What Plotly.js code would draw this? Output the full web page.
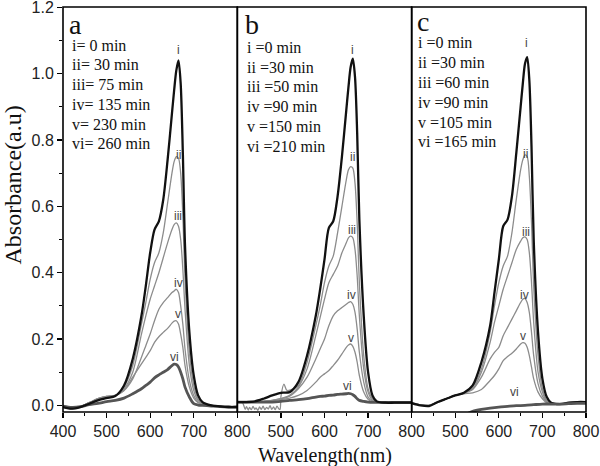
<!DOCTYPE html>
<html>
<head>
<meta charset="utf-8">
<script src="https://cdn.plot.ly/plotly-3.0.1.min.js"></script>
<style>html,body{margin:0;padding:0;background:#fff;}#chart{width:600px;height:466px;}</style>
</head>
<body>
<div id="chart"></div>
<script>
// ---------- DATA ----------
const wl = [400,420,440,460,480,500,520,540,560,580,590,600,610,620,630,640,650,655,660,665,670,675,680,690,700,710,720,740,760,780,800];

// panel a
const a_i   = [-0.005,-0.01,-0.005,0.005,0.015,0.022,0.028,0.06,0.14,0.27,0.36,0.46,0.53,0.555,0.62,0.74,0.88,0.95,1.01,1.04,0.97,0.76,0.48,0.22,0.09,0.03,0.01,0.0,-0.003,-0.005,-0.005];
const a_ii  = [-0.005,-0.01,-0.004,0.008,0.02,0.027,0.03,0.055,0.12,0.245,0.31,0.38,0.43,0.46,0.52,0.61,0.70,0.735,0.75,0.745,0.70,0.57,0.38,0.16,0.06,0.02,0.008,0.0,-0.003,-0.005,-0.005];
const a_iii = [-0.005,-0.01,-0.004,0.008,0.02,0.027,0.03,0.05,0.10,0.215,0.27,0.32,0.36,0.40,0.445,0.49,0.53,0.545,0.55,0.54,0.50,0.41,0.29,0.12,0.045,0.015,0.006,0.0,-0.003,-0.005,-0.005];
const a_iv  = [-0.005,-0.01,-0.004,0.008,0.02,0.027,0.03,0.045,0.08,0.145,0.18,0.215,0.255,0.29,0.31,0.325,0.34,0.345,0.35,0.34,0.30,0.245,0.17,0.075,0.03,0.01,0.004,0.0,-0.003,-0.005,-0.005];
const a_v   = [-0.005,-0.01,-0.004,0.008,0.018,0.025,0.03,0.045,0.085,0.125,0.145,0.165,0.19,0.207,0.22,0.232,0.248,0.254,0.255,0.245,0.215,0.175,0.12,0.055,0.022,0.008,0.003,0.0,-0.003,-0.005,-0.005];
const a_vi  = [-0.002,-0.006,-0.004,0.002,0.006,0.011,0.015,0.022,0.035,0.05,0.06,0.07,0.083,0.092,0.10,0.108,0.12,0.124,0.123,0.116,0.10,0.08,0.055,0.025,0.005,0.001,0.0,-0.002,-0.004,-0.005,-0.005];

// panel b
const b_i   = [0.01,0.01,0.012,0.02,0.03,0.038,0.04,0.07,0.15,0.27,0.35,0.44,0.535,0.555,0.63,0.75,0.89,0.96,1.02,1.045,0.99,0.82,0.56,0.27,0.10,0.03,0.012,0.008,0.008,0.008,0.008];
const b_ii  = [0.01,0.01,0.01,0.012,0.015,0.02,0.045,0.06,0.13,0.24,0.30,0.37,0.42,0.45,0.52,0.60,0.68,0.71,0.72,0.715,0.67,0.55,0.37,0.15,0.05,0.02,0.01,0.008,0.008,0.008,0.008];
const b_iii = [0.01,0.01,0.01,0.012,0.015,0.02,0.03,0.055,0.11,0.21,0.265,0.32,0.37,0.395,0.42,0.46,0.49,0.505,0.51,0.505,0.47,0.39,0.27,0.11,0.04,0.015,0.01,0.008,0.008,0.008,0.008];
const b_iv  = [0.01,0.01,0.01,0.012,0.015,0.02,0.028,0.05,0.085,0.14,0.17,0.20,0.24,0.27,0.285,0.295,0.305,0.31,0.313,0.305,0.28,0.23,0.16,0.07,0.025,0.012,0.01,0.008,0.008,0.008,0.008];
const b_v   = [0.01,0.01,0.01,0.012,0.014,0.018,0.022,0.03,0.045,0.07,0.085,0.095,0.105,0.12,0.136,0.155,0.175,0.182,0.185,0.178,0.16,0.13,0.09,0.04,0.018,0.01,0.009,0.008,0.008,0.008,0.008];
const b_vi  = [0.01,0.01,0.01,0.01,0.01,0.012,0.015,0.017,0.02,0.025,0.027,0.028,0.03,0.031,0.033,0.034,0.035,0.036,0.035,0.032,0.027,0.02,0.015,0.012,0.01,0.009,0.009,0.009,0.009,0.009,0.009];
// noisy start of curve ii in panel b (400-514 nm)
const bNoiseWl  = [400,412,418,421,425,428,432,436,440,443,447,451,455,459,463,467,471,475,479,483,487,491,495,498,500,507,514];
const bNoiseVal = [0.01,0.008,-0.012,-0.004,-0.014,-0.006,-0.013,-0.003,-0.012,-0.008,-0.015,-0.005,-0.012,-0.002,-0.013,-0.006,-0.011,-0.001,-0.012,-0.005,-0.013,-0.002,-0.01,-0.012,0.026,0.064,0.045];

// panel c
const c_i   = [0.007,0.0,-0.002,0.01,0.02,0.03,0.038,0.06,0.13,0.24,0.34,0.44,0.54,0.56,0.63,0.76,0.90,0.97,1.03,1.05,0.98,0.78,0.50,0.22,0.08,0.025,0.008,0.004,0.008,0.01,0.01];
const c_ii  = [0.007,0.002,0.0,0.01,0.02,0.03,0.038,0.055,0.11,0.22,0.30,0.37,0.42,0.45,0.52,0.62,0.71,0.74,0.755,0.75,0.69,0.55,0.36,0.15,0.05,0.015,0.008,0.004,0.008,0.01,0.01];
const c_iii = [0.007,0.002,0.0,0.01,0.02,0.03,0.038,0.05,0.10,0.19,0.25,0.30,0.35,0.39,0.43,0.47,0.495,0.505,0.508,0.50,0.46,0.37,0.25,0.10,0.04,0.012,0.008,0.004,0.008,0.01,0.01];
const c_iv  = [0.007,0.002,0.0,0.01,0.02,0.03,0.037,0.048,0.085,0.14,0.16,0.175,0.21,0.235,0.26,0.285,0.31,0.32,0.322,0.31,0.28,0.22,0.15,0.065,0.028,0.01,0.006,0.004,0.008,0.01,0.01];
const c_v   = [0.007,0.002,0.0,0.01,0.02,0.03,0.035,0.038,0.048,0.075,0.09,0.11,0.135,0.147,0.157,0.17,0.185,0.189,0.187,0.175,0.15,0.115,0.08,0.04,0.02,0.008,0.005,0.004,0.008,0.01,0.01];
const cViWl = [520,540,560,580,600,620,640,660,680,700,720,740,760,780,800];
const c_vi  = [-0.03,-0.018,-0.012,-0.008,-0.005,-0.003,-0.001,0.0,0.002,0.004,0.004,0.004,0.005,0.006,0.006];

const curveNames = ['i','ii','iii','iv','v','vi'];
const legendA = ['i= 0 min','ii= 30 min','iii= 75 min','iv= 135 min','v= 230 min','vi= 260 min'];
const legendB = ['i =0 min','ii =30 min','iii =50 min','iv =90 min','v =150 min','vi =210 min'];
const legendC = ['i =0 min','ii =30 min','iii =60 min','iv =90 min','v =105 min','vi =165 min'];
const panelLetters = ['a','b','c'];
const xTicks = [400,500,600,700,800];
const yTicks = [0,0.2,0.4,0.6,0.8,1.0,1.2];

// ---------- STYLES ----------
const serif = 'Liberation Serif, Times New Roman, serif';
const sans = 'Liberation Sans, Arial, sans-serif';
const styleOf = {
  i:   {color:'#111111', width:2.3},
  ii:  {color:'#8c8c8c', width:1.3},
  iii: {color:'#8c8c8c', width:1.3},
  iv:  {color:'#8c8c8c', width:1.3},
  v:   {color:'#8c8c8c', width:1.3},
  vi:  {color:'#555555', width:2.8}
};
function tr(x, y, xa, name){
  return {x:x, y:y, xaxis:xa, yaxis:'y', type:'scatter', mode:'lines', name:name,
    line:{color:styleOf[name].color, width:styleOf[name].width, shape:'spline', smoothing:0.8},
    hoverinfo:'skip', showlegend:false};
}
const traces = [];
const pa = {i:a_i, ii:a_ii, iii:a_iii, iv:a_iv, v:a_v, vi:a_vi};
const pb = {i:b_i, ii:b_ii, iii:b_iii, iv:b_iv, v:b_v, vi:b_vi};
const pc = {i:c_i, ii:c_ii, iii:c_iii, iv:c_iv, v:c_v};
['v','iv','iii','ii','vi','i'].forEach(n => traces.push(tr(wl, pa[n], 'x', n)));
['v','iv','iii'].forEach(n => traces.push(tr(wl, pb[n], 'x2', n)));
traces.push(tr(bNoiseWl.concat(wl.slice(7)), bNoiseVal.concat(b_ii.slice(7)), 'x2', 'ii'));
['vi','i'].forEach(n => traces.push(tr(wl, pb[n], 'x2', n)));
['v','iv','iii','ii','i'].forEach(n => traces.push(tr(wl, pc[n], 'x3', n)));
traces.push(tr(cViWl, c_vi, 'x3', 'vi'));

// ---------- LAYOUT ----------
function xax(dom, labels){
  return {domain:dom, range:[400,800], tickmode:'array', tickvals:xTicks, ticktext:labels,
    ticks:'outside', ticklen:5, tickwidth:1.2, tickcolor:'#000',
    minor:{tickmode:'linear', tick0:400, dtick:50, ticks:'outside', ticklen:3, tickwidth:1, tickcolor:'#000'},
    showgrid:false, zeroline:false, showline:false, anchor:'y',
    tickfont:{family:sans, size:16, color:'#222'}, fixedrange:true};
}
const annotations = [];
function txt(x, y, xref, s, size, fam, xanchor, color){
  annotations.push({x:x, y:y, xref:xref, yref:'y', text:s, showarrow:false,
    xanchor:xanchor, yanchor:'middle', font:{family:fam, size:size, color:color||'#111'}});
}
// legend blocks
const legPos = [
  {xref:'x',  x:416, ys:[1.085,1.027,0.967,0.907,0.848,0.788], lines:legendA, lx:409, ly:1.148},
  {xref:'x2', x:417, ys:[1.080,1.020,0.962,0.902,0.842,0.781], lines:legendB, lx:413, ly:1.148},
  {xref:'x3', x:409, ys:[1.095,1.034,0.974,0.914,0.854,0.796], lines:legendC, lx:408, ly:1.158}
];
legPos.forEach((p, k) => {
  p.lines.forEach((s, j) => txt(p.x, p.ys[j], p.xref, s, 16, serif, 'left'));
  txt(p.lx, p.ly, p.xref, panelLetters[k], 28, serif, 'left');
});
// curve labels
const lblA = [[665,1.07],[664,0.754],[663,0.570],[664,0.368],[664,0.275],[656,0.145]];
const lblB = [[664,1.07],[664,0.749],[664,0.528],[661,0.333],[661,0.202],[653,0.058]];
const lblC = [[664,1.092],[662,0.757],[662,0.523],[658,0.333],[655,0.209],[637,0.039]];
[[lblA,'x'],[lblB,'x2'],[lblC,'x3']].forEach(([L, xr]) => {
  L.forEach((p, j) => txt(p[0], p[1], xr, curveNames[j], 12, sans, 'center', '#444'));
});
// axis titles
annotations.push({x:0.5, y:-0.1, xref:'paper', yref:'paper', text:'Wavelength(nm)', showarrow:false,
  xanchor:'center', yanchor:'middle', font:{family:serif, size:20, color:'#111'}, yshift:-3});
annotations.push({x:-0.095, y:0.56, xref:'paper', yref:'paper', text:'Absorbance(a.u)', showarrow:false,
  textangle:-90, xanchor:'center', yanchor:'middle', font:{family:serif, size:24, color:'#111'}});

const shapes = ['x','x2','x3'].map(a => ({type:'rect', xref:a+' domain', yref:'y domain',
  x0:0, x1:1, y0:0, y1:1, line:{color:'#000', width:1.6}, fillcolor:'rgba(0,0,0,0)', layer:'above'}));

const layout = {
  width:600, height:466,
  margin:{l:63, r:14, t:7, b:54},
  paper_bgcolor:'#fff', plot_bgcolor:'#fff',
  showlegend:false,
  xaxis: xax([0, 1/3], ['400','500','600','700','800']),
  xaxis2: xax([1/3, 2/3], ['','500','600','700','800']),
  xaxis3: xax([2/3, 1], ['','500','600','700','800']),
  yaxis: {range:[-0.02, 1.201], tickmode:'array', tickvals:yTicks, tickformat:'.1f',
    ticks:'outside', ticklen:5, tickwidth:1.2, tickcolor:'#000', ticklabeloverflow:'allow',
    minor:{tickmode:'linear', tick0:0, dtick:0.1, ticks:'outside', ticklen:3, tickwidth:1, tickcolor:'#000'},
    showgrid:false, zeroline:false, showline:false, anchor:'x', automargin:false,
    tickfont:{family:sans, size:16, color:'#222'}, fixedrange:true},
  annotations: annotations,
  shapes: shapes
};
Plotly.newPlot('chart', traces, layout, {displayModeBar:false, staticPlot:true});
</script>
</body>
</html>
